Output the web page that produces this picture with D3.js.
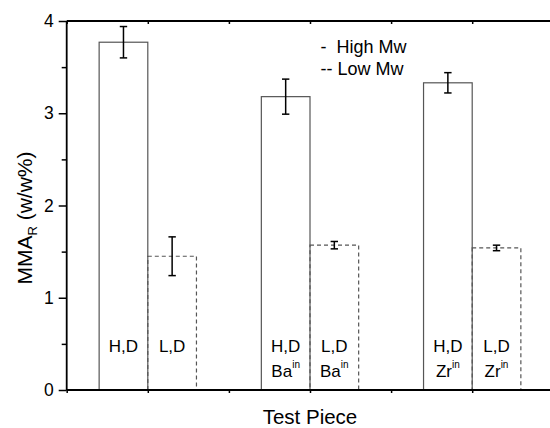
<!DOCTYPE html>
<html>
<head>
<meta charset="utf-8">
<script src="https://cdn.jsdelivr.net/npm/d3@7"></script>
<style>
  html, body { margin: 0; padding: 0; background: #fff; }
  svg { display: block; font-family: "Liberation Sans", Arial, sans-serif; }
</style>
</head>
<body>
<svg id="chart" width="550" height="428"></svg>
<script>
// ---- data ----
const labels = ["H,D", "L,D", "H,D", "L,D", "H,D", "L,D"];
const subLabels = ["", "", "Ba", "Ba", "Zr", "Zr"];
const positions = [0.7, 1.3, 2.7, 3.3, 4.7, 5.3];
const values = [3.77, 1.45, 3.18, 1.57, 3.33, 1.54];
const errors = [0.17, 0.21, 0.19, 0.04, 0.11, 0.03];
const seriesType = ["High", "Low", "High", "Low", "High", "Low"];
const yTicks = [0, 1, 2, 3, 4];
const yMinorTicks = [0.5, 1.5, 2.5, 3.5];
const xTicks = [0, 1, 2, 3, 4, 5, 6];
const legendItems = ["-  High Mw", "-- Low Mw"];
const barWidth = 0.6;

const svg = d3.select("#chart");
const x = d3.scaleLinear().domain([0, 6]).range([66.7, 553.3]);
const y = d3.scaleLinear().domain([0, 4]).range([390, 21]);

// bars (low first so solid high edges sit on top)
const order = d3.range(values.length).sort((a, b) => (seriesType[a] === "Low" ? -1 : 1) - (seriesType[b] === "Low" ? -1 : 1));
svg.append("g").selectAll("rect").data(order).join("rect")
  .attr("x", i => x(positions[i] - barWidth / 2))
  .attr("y", i => y(values[i]))
  .attr("width", i => x(positions[i] + barWidth / 2) - x(positions[i] - barWidth / 2))
  .attr("height", i => y(0) - y(values[i]))
  .attr("fill", "none")
  .attr("stroke", "#555")
  .attr("stroke-width", 1.2)
  .attr("stroke-dasharray", i => seriesType[i] === "Low" ? "4,3" : null);

// error bars
const eg = svg.append("g").attr("stroke", "#000").attr("stroke-width", 1.5);
values.forEach((v, i) => {
  const cx = x(positions[i]);
  eg.append("line").attr("x1", cx).attr("x2", cx).attr("y1", y(v + errors[i])).attr("y2", y(v - errors[i]));
  [v + errors[i], v - errors[i]].forEach(e => {
    eg.append("line").attr("x1", cx - 3.7).attr("x2", cx + 3.7).attr("y1", y(e)).attr("y2", y(e));
  });
});

// bar labels
labels.forEach((l, i) => {
  const cx = x(positions[i]);
  svg.append("text").attr("x", cx).attr("y", 352).attr("text-anchor", "middle")
    .attr("font-size", 17).text(l);
  if (subLabels[i]) {
    const t = svg.append("text").attr("x", cx).attr("y", 376.5).attr("text-anchor", "middle").attr("font-size", 17);
    t.append("tspan").text(subLabels[i]);
    t.append("tspan").attr("font-size", 10).attr("dy", -9).text("in");
  }
});

// axes
const ax = svg.append("g").attr("stroke", "#000");
svg.append("g").attr("transform", `translate(${x(0)},0)`)
  .call(d3.axisLeft(y).tickValues(yTicks).tickSize(8).tickFormat(d3.format("d")))
  .call(g => g.select(".domain").remove())
  .call(g => g.selectAll("line").attr("stroke-width", 1.5))
  .call(g => g.selectAll("text").attr("font-size", 17.5).attr("font-family", "Liberation Sans, Arial").attr("x", -13).attr("fill", "#000"));
svg.append("g").attr("transform", `translate(${x(0)},0)`)
  .call(d3.axisLeft(y).tickValues(yMinorTicks).tickSize(5).tickFormat(""))
  .call(g => g.select(".domain").remove())
  .call(g => g.selectAll("line").attr("stroke-width", 1.5));
svg.append("g").attr("transform", `translate(0,${y(0)})`)
  .call(d3.axisBottom(x).tickValues(xTicks).tickSize(3).tickFormat(""))
  .call(g => g.select(".domain").remove())
  .call(g => g.selectAll("line").attr("stroke-width", 1.5));
svg.append("g").attr("transform", `translate(0,${y(4)})`)
  .call(d3.axisBottom(x).tickValues(xTicks).tickSize(3).tickFormat(""))
  .call(g => g.select(".domain").remove())
  .call(g => g.selectAll("line").attr("stroke-width", 1.5));
ax.append("line").attr("x1", x(0)).attr("x2", x(0)).attr("y1", y(4)).attr("y2", y(0)).attr("stroke-width", 1.8);
ax.append("line").attr("x1", x(0)).attr("x2", 550).attr("y1", y(0)).attr("y2", y(0)).attr("stroke-width", 1.8);
ax.append("line").attr("x1", x(0)).attr("x2", 550).attr("y1", y(4)).attr("y2", y(4)).attr("stroke-width", 1.8);

// axis titles
const yl = svg.append("text").attr("transform", "translate(32,218) rotate(-90)")
  .attr("text-anchor", "middle").attr("font-size", 21);
yl.append("tspan").text("MMA");
yl.append("tspan").attr("font-size", 13).attr("dy", 5).text("R");
yl.append("tspan").attr("dy", -5).text(" (w/w%)");

svg.append("text").attr("x", 310).attr("y", 423.5).attr("text-anchor", "middle")
  .attr("font-size", 20.5).text("Test Piece");

// legend
legendItems.forEach((t, i) => {
  svg.append("text").attr("x", 320.5).attr("y", 52.7 + i * 22.3).attr("font-size", 18)
    .attr("xml:space", "preserve").style("white-space", "pre").text(t);
});
</script>
</body>
</html>
